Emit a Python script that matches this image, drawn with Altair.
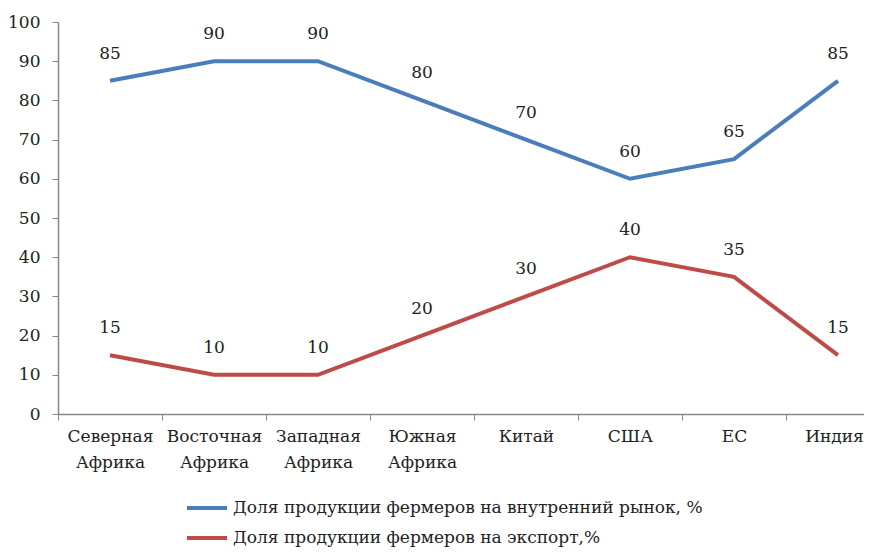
import altair as alt
import pandas as pd

categories = ["Северная Африка", "Восточная Африка", "Западная Африка", "Южная Африка",
              "Китай", "США", "ЕС", "Индия"]
domestic = [85, 90, 90, 80, 70, 60, 65, 85]
export = [15, 10, 10, 20, 30, 40, 35, 15]
series_names = ["Доля продукции фермеров на внутренний рынок, %",
                "Доля продукции фермеров на экспорт,%"]
colors = ["#4A7EBB", "#BE4B48"]

rows = []
for c, v in zip(categories, domestic):
    rows.append({"cat": c, "value": v, "series": series_names[0]})
for c, v in zip(categories, export):
    rows.append({"cat": c, "value": v, "series": series_names[1]})
df = pd.DataFrame(rows)

FONT = "DejaVu Serif"

x = alt.X("cat:N", sort=categories, title=None,
          scale=alt.Scale(type="band", range=[0, 832], paddingInner=0, paddingOuter=0),
          axis=alt.Axis(labelAngle=0, labelExpr="split(datum.label, ' ')",
                        labelLineHeight=26, labelFontSize=17, labelFont=FONT,
                        labelColor="#222222", labelPadding=8,
                        labelOffset={"expr": "datum.label == 'Индия' ? -4 : 0"},
                        tickBand="extent", tickSize=6, tickColor="#868686",
                        domainColor="#868686", domainWidth=1.5, grid=False))
y = alt.Y("value:Q", title=None,
          scale=alt.Scale(domain=[0, 100], nice=False),
          axis=alt.Axis(values=list(range(0, 101, 10)), labelFontSize=17, labelFont=FONT,
                        labelColor="#222222", labelPadding=12, tickSize=6,
                        tickColor="#868686", domainColor="#868686", domainWidth=1.5,
                        grid=False))
color = alt.Color("series:N",
                  scale=alt.Scale(domain=series_names, range=colors),
                  legend=alt.Legend(title=None, orient="none", legendX=127, legendY=464,
                                    direction="vertical", symbolType="stroke",
                                    symbolSize=1600, symbolStrokeWidth=4,
                                    labelFontSize=17, labelFont=FONT, labelColor="#222222",
                                    rowPadding=0, labelOffset=4, labelLimit=800))

base = alt.Chart(df)
lines = base.mark_line(strokeWidth=4).encode(x=x, y=y, color=color)
labels = base.mark_text(dy=-27, fontSize=17, font=FONT, color="#222222").encode(
    x=x, y=y, text="value:Q")

chart = (lines + labels).properties(
    width=806, height=392,
    autosize=alt.AutoSizeParams(type="none"),
    padding={"left": 50, "top": 14, "right": 0, "bottom": 134},
).configure_view(stroke=None)

chart.save("out.html", embed_options={"renderer": "svg", "actions": False})
